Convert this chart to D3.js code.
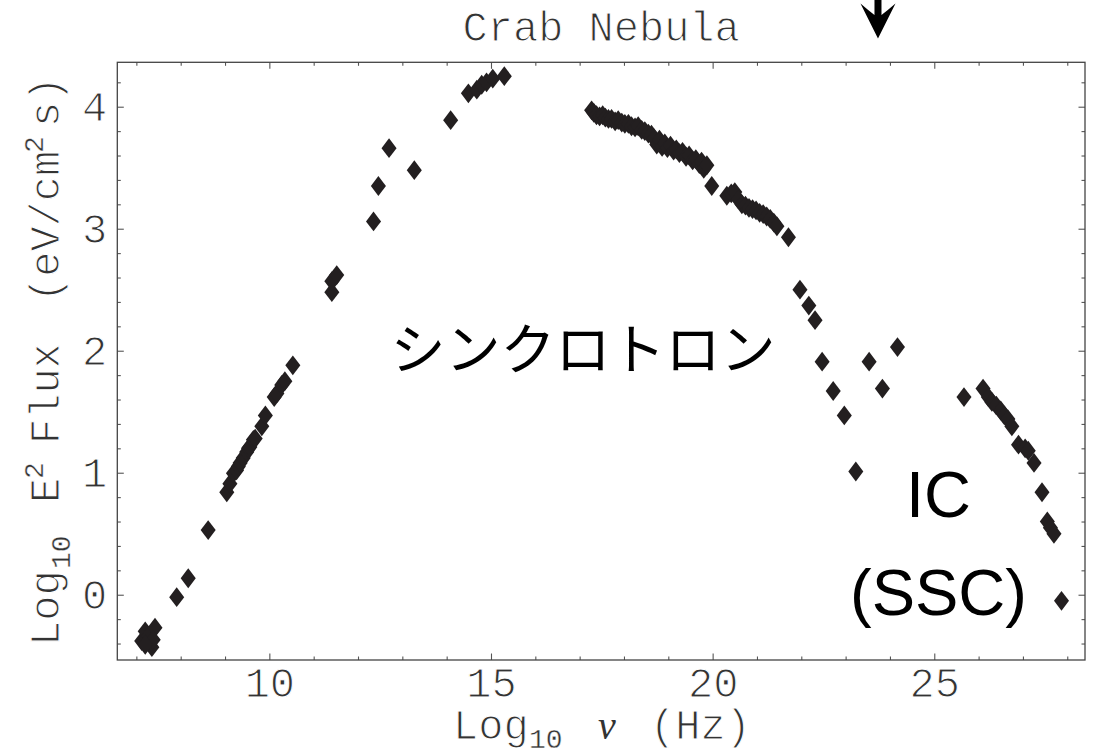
<!DOCTYPE html>
<html><head><meta charset="utf-8">
<script src="https://cdn.jsdelivr.net/npm/d3@7"></script>
<style>html,body{margin:0;padding:0;background:#fff}</style>
</head><body>
<svg id="chart" width="1101" height="754"></svg>
<script>
// ---------------- data (log10 nu [Hz], log10 E^2 flux [eV/cm^2 s]) ----------------
const radioOpticalNu   = [7.12, 7.20, 7.27, 7.35, 7.42, 7.38, 7.20, 7.91, 8.17, 8.62, 9.04, 9.11, 9.19, 9.26, 9.30, 9.34, 9.41, 9.49, 9.53, 9.56, 9.64, 9.68, 9.83, 9.91, 10.11, 10.17, 10.28, 10.35, 10.53, 11.41, 11.41, 11.52, 12.35, 12.46, 12.70, 13.27, 14.09, 14.49, 14.68, 14.79, 14.90, 15.04, 15.30];
const radioOpticalFlux = [-0.38, -0.30, -0.34, -0.43, -0.27, -0.37, -0.41, -0.02, 0.135, 0.53, 0.84, 0.91, 0.995, 1.02, 1.05, 1.08, 1.12, 1.17, 1.20, 1.21, 1.27, 1.28, 1.38, 1.47, 1.62, 1.65, 1.72, 1.75, 1.88, 2.48, 2.57, 2.62, 3.06, 3.35, 3.66, 3.48, 3.89, 4.11, 4.14, 4.18, 4.20, 4.23, 4.25];

const xrayNu   = [17.27, 17.32, 17.38, 17.45, 17.52, 17.58, 17.65, 17.72, 17.80, 17.87, 17.95, 18.02, 18.10, 18.17, 18.25, 18.32, 18.40, 18.47, 18.55, 18.62, 18.68, 18.74, 18.80, 18.86, 18.92, 18.98, 19.05, 19.12, 19.18, 19.25, 19.32, 19.40, 19.47, 19.55, 19.62, 19.70, 19.75, 19.80, 19.87, 19.98,
                  20.32, 20.42, 20.50, 20.58, 20.66, 20.74, 20.82, 20.90, 20.98, 21.06, 21.14, 21.22, 21.30, 21.38, 21.45, 21.71, 21.97, 22.17, 22.31, 22.47, 22.72, 22.97];
const xrayFlux = [3.97, 3.95, 3.93, 3.92, 3.93, 3.91, 3.90, 3.90, 3.88, 3.89, 3.87, 3.86, 3.86, 3.84, 3.83, 3.84, 3.81, 3.80, 3.78, 3.77, 3.74, 3.69, 3.73, 3.67, 3.70, 3.66, 3.68, 3.64, 3.65, 3.62, 3.63, 3.59, 3.60, 3.56, 3.57, 3.53, 3.55, 3.49, 3.52, 3.35,
                  3.27, 3.29, 3.30, 3.24, 3.20, 3.19, 3.17, 3.16, 3.15, 3.13, 3.12, 3.10, 3.08, 3.05, 3.02, 2.93, 2.50, 2.37, 2.25, 1.91, 1.67, 1.47];

const gammaNu   = [23.23, 23.53, 23.83, 24.17, 25.67, 26.10, 26.22, 26.30, 26.40, 26.50, 26.58, 26.66, 26.75, 26.90, 27.05, 27.12, 27.25, 27.43, 27.55, 27.62, 27.70, 27.87];
const gammaFlux = [1.01, 1.91, 1.69, 2.03, 1.62, 1.69, 1.62, 1.58, 1.55, 1.51, 1.47, 1.44, 1.38, 1.23, 1.20, 1.18, 1.08, 0.84, 0.60, 0.55, 0.50, -0.05];

const xMajorTicks = [10, 15, 20, 25];
const xMinorTicks = [7, 8, 9, 11, 12, 13, 14, 16, 17, 18, 19, 21, 22, 23, 24, 26, 27, 28];
const yMajorTicks = [0, 1, 2, 3, 4];
const yMinorTicks = [-0.4, -0.2, 0.2, 0.4, 0.6, 0.8, 1.2, 1.4, 1.6, 1.8, 2.2, 2.4, 2.6, 2.8, 3.2, 3.4, 3.6, 3.8, 4.2];
const xDomain = [6.57, 28.40];
const yDomain = [-0.535, 4.364];
const arrowNu = 23.73;

const titleText = "Crab Nebula";
const syncLabel = "シンクロトロン";
const icLabel1 = "IC";
const icLabel2 = "(SSC)";

// ---------------- drawing ----------------
const svg = d3.select("#chart");
const plot = {left: 117.3, right: 1085, top: 62.3, bottom: 660};
const x = d3.scaleLinear().domain(xDomain).range([plot.left, plot.right]);
const y = d3.scaleLinear().domain(yDomain).range([plot.bottom, plot.top]);

const mono = "'Liberation Mono', 'Courier New', monospace";
const textColor = "#333";
const tickColor = "#555";
const fs = 42, fsSmall = 28;

// thin the monospace glyphs a little (to resemble a light Courier face)
function thin(sel, w) {
  return sel.attr("stroke", "#fff").attr("stroke-width", w == null ? 1.1 : w).attr("paint-order", "fill");
}

svg.append("rect").attr("width", 1101).attr("height", 754).attr("fill", "#fff");

function addAxis(gen, transform, values, len, labels) {
  const g = svg.append("g").attr("transform", transform)
    .call(gen.tickValues(values).tickSizeInner(-len).tickSizeOuter(0)
      .tickFormat(labels ? d3.format("d") : () => ""));
  g.select(".domain").remove();
  g.selectAll("line").attr("stroke", tickColor).attr("stroke-width", 1.1);
  g.selectAll("text").attr("font-family", mono).attr("font-size", fs).attr("fill", textColor);
  thin(g.selectAll("text"));
  if (!labels) g.selectAll("text").remove();
  return g;
}

// bottom
const gb = addAxis(d3.axisBottom(x), `translate(0,${plot.bottom})`, xMajorTicks, 6.5, true);
gb.selectAll("text").attr("y", 36.7).attr("dy", 0);
addAxis(d3.axisBottom(x), `translate(0,${plot.bottom})`, xMinorTicks, 3.5, false);
// top
addAxis(d3.axisTop(x), `translate(0,${plot.top})`, xMajorTicks, 6.5, false);
addAxis(d3.axisTop(x), `translate(0,${plot.top})`, xMinorTicks, 3.5, false);
// left
const gl = addAxis(d3.axisLeft(y), `translate(${plot.left},0)`, yMajorTicks, 6.5, true);
gl.selectAll("text").attr("x", -10).attr("dy", "0.32em");
addAxis(d3.axisLeft(y), `translate(${plot.left},0)`, yMinorTicks, 3.5, false);
// right
addAxis(d3.axisRight(y), `translate(${plot.right},0)`, yMajorTicks, 6.5, false);
addAxis(d3.axisRight(y), `translate(${plot.right},0)`, yMinorTicks, 3.5, false);

// frame
svg.append("rect")
  .attr("x", plot.left).attr("y", plot.top)
  .attr("width", plot.right - plot.left).attr("height", plot.bottom - plot.top)
  .attr("fill", "none").attr("stroke", "#444").attr("stroke-width", 1.3);

// title
thin(svg.append("text").attr("x", (plot.left + plot.right) / 2).attr("y", 41)
  .attr("text-anchor", "middle").attr("font-family", mono).attr("font-size", fs)
  .attr("fill", textColor)).text(titleText);

// x label
const xl = thin(svg.append("text").attr("font-family", mono).attr("font-size", fs).attr("fill", textColor));
xl.append("tspan").attr("x", 453).attr("y", 739).text("Log");
xl.append("tspan").attr("x", 529).attr("y", 747.5).attr("font-size", fsSmall).attr("stroke-width", 0.4).text("10");
xl.append("tspan").attr("x", 598).attr("y", 739).attr("font-family", "'Liberation Serif', serif")
  .attr("font-style", "italic").attr("font-size", 40).attr("stroke", "none").text("ν");
xl.append("tspan").attr("x", 650).attr("y", 739).text("(Hz)");

// y label (rotated)
const yl = thin(svg.append("g").attr("transform", "translate(58.5,0) rotate(-90)")
  .append("text").attr("font-family", mono).attr("font-size", fs).attr("fill", textColor));
yl.append("tspan").attr("x", -646).attr("y", 0).text("Log");
yl.append("tspan").attr("x", -569).attr("y", 11.5).attr("font-size", fsSmall).attr("stroke-width", 0.4).text("10");
yl.append("tspan").attr("x", -503).attr("y", 0).text("E");
yl.append("tspan").attr("x", -479).attr("y", -16).attr("font-size", fsSmall).attr("stroke-width", 0.4).text("2");
yl.append("tspan").attr("x", -444).attr("y", 0).text("Flux");
yl.append("tspan").attr("x", -302).attr("y", 0).text("(eV/cm");
yl.append("tspan").attr("x", -153).attr("y", -16).attr("font-size", fsSmall).attr("stroke-width", 0.4).text("2");
yl.append("tspan").attr("x", -127).attr("y", 0).text("s)");

// markers
const diamond = {
  draw(ctx, h) {
    const w = h * 0.76;
    ctx.moveTo(0, -h); ctx.lineTo(w, 0); ctx.lineTo(0, h); ctx.lineTo(-w, 0); ctx.closePath();
  }
};
const sym = d3.symbol().type(diamond).size(9.9);
function plotSeries(nu, fl) {
  svg.append("g").selectAll("path").data(nu.map((v, i) => [v, fl[i]])).join("path")
    .attr("d", sym).attr("fill", "#231f20")
    .attr("transform", d => `translate(${x(d[0])},${y(d[1])})`);
}
plotSeries(radioOpticalNu, radioOpticalFlux);
plotSeries(xrayNu, xrayFlux);
plotSeries(gammaNu, gammaFlux);

// annotations
svg.append("text").attr("x", 583).attr("y", 369).attr("text-anchor", "middle")
  .attr("font-family", "'Noto Sans CJK JP', sans-serif").attr("font-size", 55).attr("fill", "#000")
  .text(syncLabel);
svg.append("text").attr("x", 938.5).attr("y", 516.7).attr("text-anchor", "middle")
  .attr("font-family", "'Liberation Sans', Arial, sans-serif").attr("font-size", 65).attr("fill", "#000")
  .text(icLabel1);
svg.append("text").attr("x", 938.5).attr("y", 615).attr("text-anchor", "middle")
  .attr("font-family", "'Liberation Sans', Arial, sans-serif").attr("font-size", 65).attr("fill", "#000")
  .text(icLabel2);

// arrow at top
const ax = x(arrowNu);
svg.append("path")
  .attr("d", `M${ax - 3.5},0 L${ax + 3.5},0 L${ax + 3.5},15 Q${ax + 10},10 ${ax + 17.5},3.5 L${ax},38.5 L${ax - 17.5},3.5 Q${ax - 10},10 ${ax - 3.5},15 Z`)
  .attr("fill", "#000");
</script>
</body></html>
